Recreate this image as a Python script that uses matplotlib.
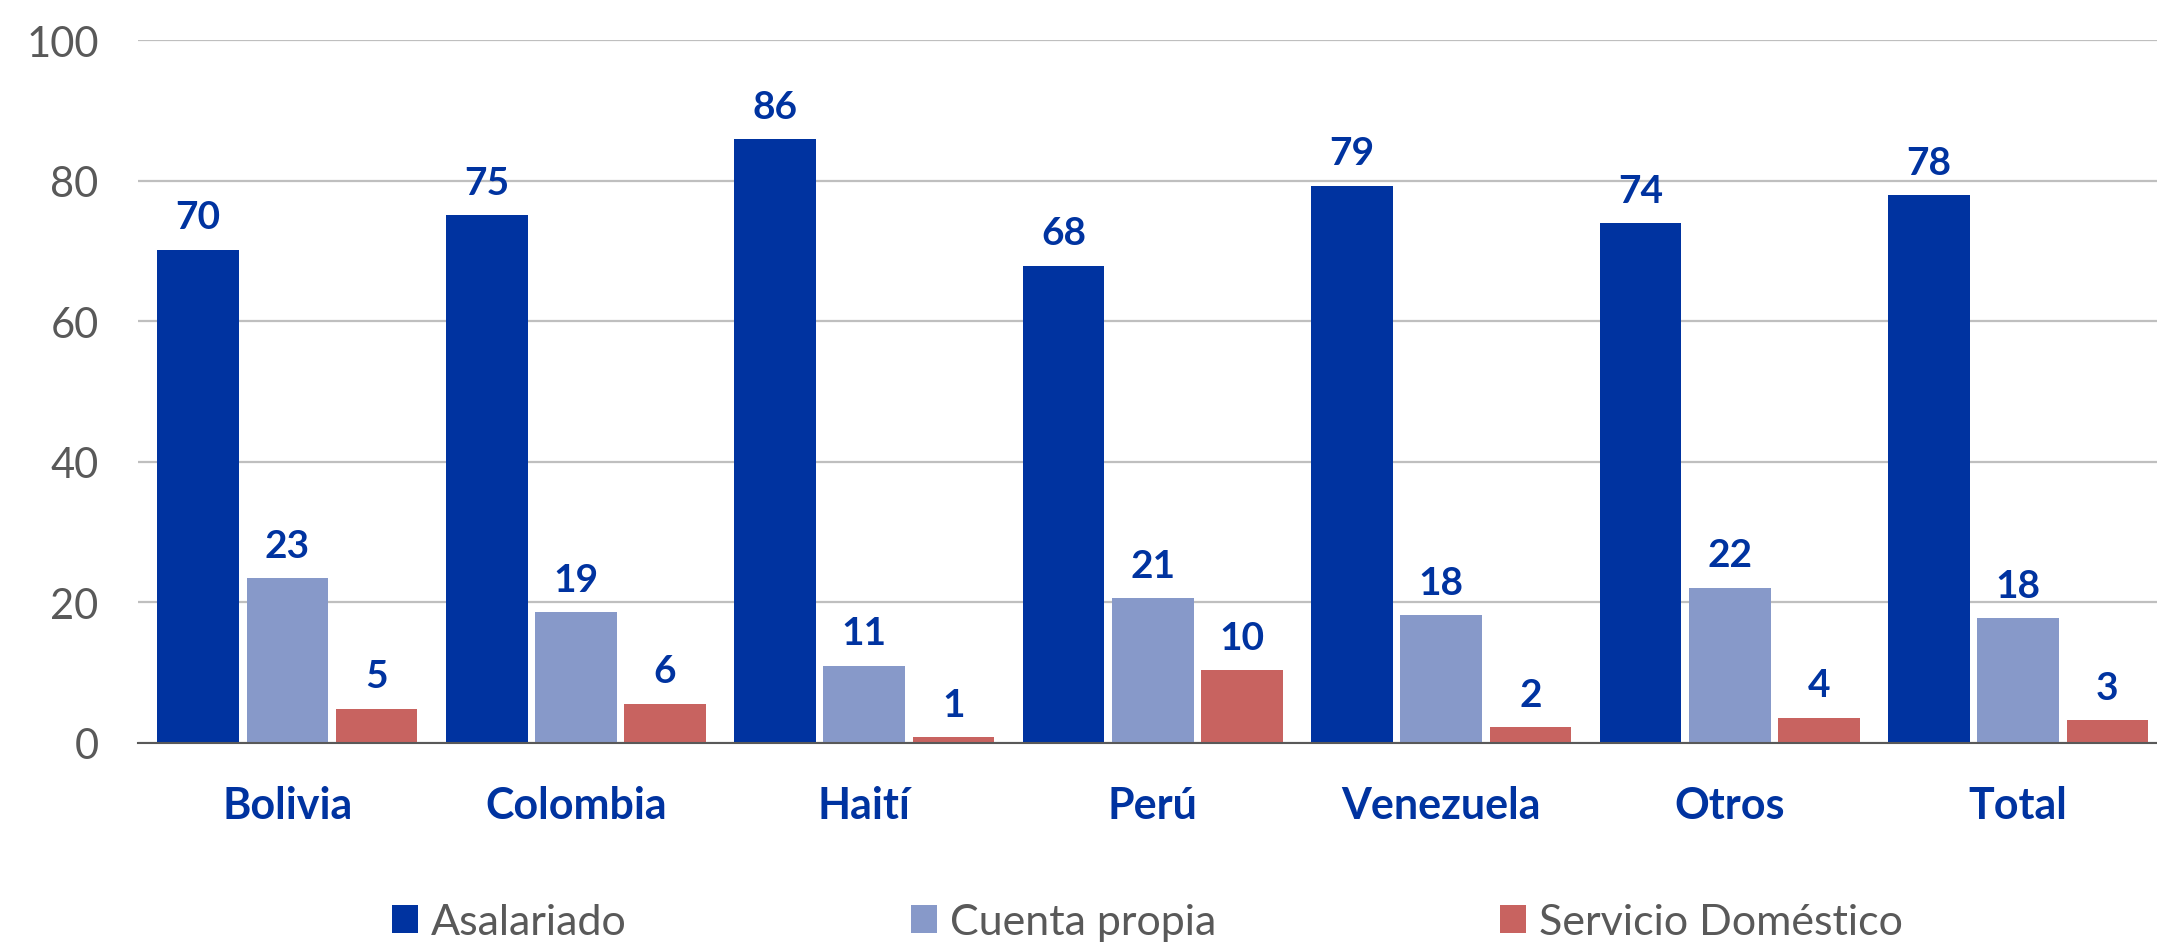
import numpy as np
import matplotlib
matplotlib.use("Agg")
import matplotlib.pyplot as plt

plt.rcParams['font.family'] = ['Lato', 'DejaVu Sans']

paises = ['Bolivia', 'Colombia', 'Haití', 'Perú', 'Venezuela', 'Otros', 'Total']
asalariado = [70.2, 75.1, 85.9, 67.9, 79.3, 74.0, 77.9]
cuenta_propia = [23.4, 18.6, 11.0, 20.6, 18.2, 22.1, 17.8]
servicio_dom = [4.9, 5.6, 0.8, 10.4, 2.3, 3.6, 3.3]
series = ['Asalariado', 'Cuenta propia', 'Servicio Doméstico']
colores = ['#0033A0', '#8799C9', '#C86360']
azul = '#0033A0'
gris = '#595959'

fig = plt.figure(figsize=(21.57, 9.45), dpi=100)
ax = fig.add_axes([0.0638, 0.2127, 0.9362, 0.7439])

ind = np.arange(len(paises))
width = 0.283
step = 0.309

for k, (vals, col, name) in enumerate(zip([asalariado, cuenta_propia, servicio_dom], colores, series)):
    bars = ax.bar(ind + (k - 1) * step, vals, width, color=col, label=name, zorder=3)
    ax.bar_label(bars, labels=['%.0f' % v for v in vals], padding=11,
                 color=azul, fontsize=28, fontweight='bold')

ax.set_xlim(-0.519, len(paises) - 0.519)
ax.set_ylim(0, 100)
ax.set_yticks(np.arange(0, 101, 20))
ax.set_xticks(ind)
ax.set_xticklabels(paises, fontsize=31, fontweight='bold', color=azul)
ax.tick_params(axis='x', length=0, pad=30)
ax.tick_params(axis='y', length=0, pad=28, labelsize=30, labelcolor=gris)

ax.grid(axis='y', color='#BFBFBF', linewidth=1.6, zorder=0)
for s in ['top', 'right', 'left']:
    ax.spines[s].set_visible(False)
ax.spines['bottom'].set_color(gris)
ax.spines['bottom'].set_linewidth(1.5)
ax.spines['bottom'].set_zorder(4)

# legend centred under the plot area, not the figure
leg = fig.legend(loc='center', bbox_to_anchor=(0.532, 0.023), ncol=3, frameon=False,
                 fontsize=31, handlelength=0.6, handleheight=0.6, handletextpad=0.3,
                 columnspacing=6.6, labelcolor=gris)

fig.savefig('out.png', dpi=100)
